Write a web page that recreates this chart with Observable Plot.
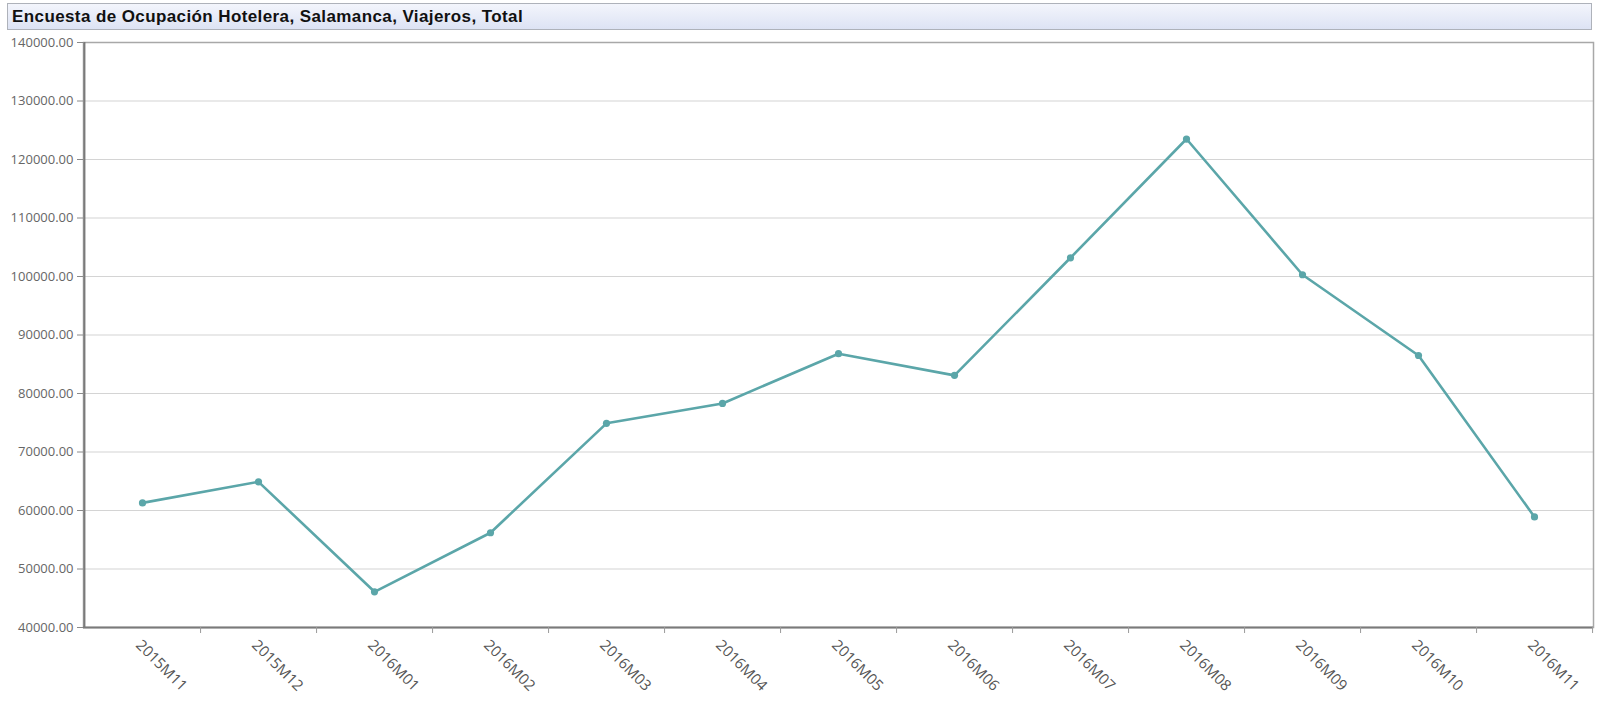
<!DOCTYPE html>
<html>
<head>
<meta charset="utf-8">
<script src="https://cdn.jsdelivr.net/npm/d3@7"></script>
<script src="https://cdn.jsdelivr.net/npm/@observablehq/plot@0.6"></script>
<style>
  html, body { margin: 0; padding: 0; background: #fff; }
  #title {
    margin: 3px 8px 0 7px;
    height: 25px;
    border: 1px solid #aeb2ba;
    background: linear-gradient(#f3f5fc, #dde3f4);
    font: bold 17px "Liberation Sans", Arial, sans-serif;
    letter-spacing: 0.4px;
    line-height: 25px;
    padding-left: 4px;
    color: #111;
    box-sizing: content-box;
  }
  svg { display: block; }
</style>
</head>
<body>
<div id="title">Encuesta de Ocupación Hotelera, Salamanca, Viajeros, Total</div>
<div id="chart"></div>
<script>
const months = ["2015M11","2015M12","2016M01","2016M02","2016M03","2016M04","2016M05","2016M06","2016M07","2016M08","2016M09","2016M10","2016M11"];
const viajeros = [61300, 64900, 46100, 56200, 74900, 78300, 86800, 83100, 103200, 123500, 100300, 86500, 58900];
const yTicks = [40000, 50000, 60000, 70000, 80000, 90000, 100000, 110000, 120000, 130000, 140000];

const data = months.map((m, i) => ({month: m, value: viajeros[i]}));

const W = 1600, H = 673, mL = 83, mR = 7, mT = 12, mB = 76;
const half = (W - mL - mR) / months.length / 2;
const lineColor = "#5ba6a9";

const chart = Plot.plot({
  width: W,
  height: H,
  marginLeft: mL,
  marginRight: mR,
  marginTop: mT,
  marginBottom: mB,
  style: {fontFamily: "'Open Sans', sans-serif", fontSize: "13px", color: "#666", background: "#fff"},
  x: {type: "point", domain: months, padding: 0.5},
  y: {domain: [40000, 140000]},
  marks: [
    Plot.gridY(yTicks, {stroke: "#d4d4d4", strokeOpacity: 1, strokeWidth: 1.2}),
    Plot.frame({stroke: "#a8a8a8", strokeWidth: 1.5}),
    Plot.ruleY([40000], {stroke: "#7a7a7a", strokeWidth: 2}),
    Plot.ruleX([months[0]], {dx: -half, stroke: "#7a7a7a", strokeWidth: 2}),
    Plot.axisY(yTicks, {tickFormat: d3.format(".2f"), tickSize: 6, tickPadding: 4, stroke: "#8a8a8a", fill: "#666", fontSize: 13, label: null}),
    Plot.axisX({tickSize: 6, tickFormat: () => "", dx: half, stroke: "#9a9a9a", label: null}),
    Plot.axisX({tickSize: 0, tickRotate: 45, tickPadding: 15, dx: -4, fill: "#555", fontSize: 15, label: null}),
    Plot.line(data, {x: "month", y: "value", stroke: lineColor, strokeWidth: 2.6}),
    Plot.dot(data, {x: "month", y: "value", fill: lineColor, r: 3.6})
  ]
});
document.getElementById("chart").appendChild(chart);
</script>
</body>
</html>
